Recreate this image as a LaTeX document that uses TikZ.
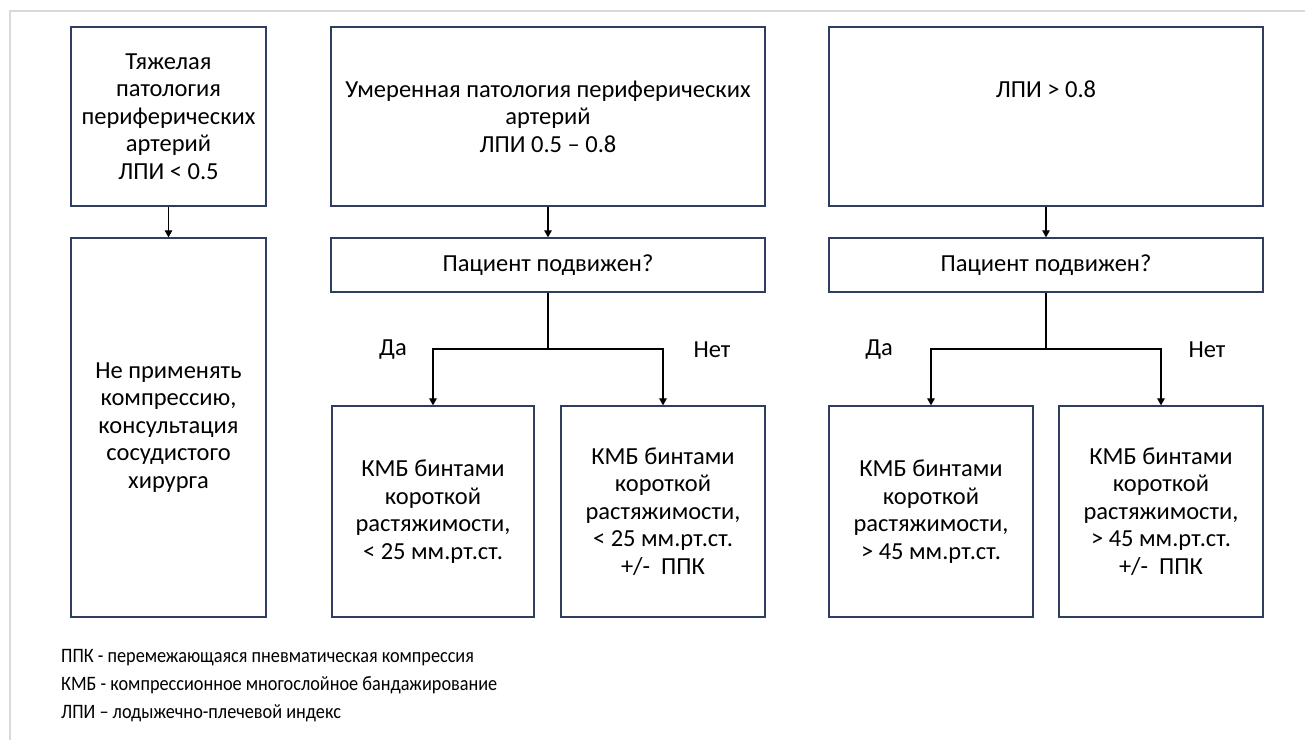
\documentclass[tikz,border=0pt]{standalone}
\usepackage{fontspec}
\setmainfont{Carlito}
\newfontfamily\legendfont{Carlito}[FakeStretch=0.89]
\usetikzlibrary{arrows.meta}
\definecolor{boxblue}{RGB}{47,62,96}
\definecolor{framegray}{RGB}{217,217,217}
\begin{document}
\begin{tikzpicture}[
        x=1pt, y=-1pt,
        every node/.style={font=\fontsize{24.5}{27.5}\selectfont},
        box/.style={draw=boxblue, line width=1.3pt, align=center, inner sep=0pt},
        ln/.style={line width=1.2pt},
        arr/.style={ln, -{Triangle[width=7.5pt, length=7pt]}}
      ]
      \useasboundingbox (0,0) rectangle (1305,740);
      \draw[framegray, line width=1.5pt] (10,740) -- (10,11) -- (1305,11);
      \node[box, minimum width=195, minimum height=179] (heavy) at (168.5,116.5)
        {Тяжелая\\патология\\периферических\\артерий\\ЛПИ < 0.5};
      \node[box, minimum width=195, minimum height=379] (nocomp) at (168.5,427.5)
        {Не применять\\компрессию,\\консультация\\сосудистого\\хирурга};
      \node[box, minimum width=434, minimum height=179] (moder) at (548,116.5)
        {Умеренная патология периферических\\артерий\\ЛПИ 0.5 – 0.8};
      \node[box, minimum width=434, minimum height=54] (mobM) at (548,265)
        {Пациент подвижен?};
      \node[box, minimum width=202, minimum height=211] (yesM) at (433,511.5)
        {КМБ бинтами\\короткой\\растяжимости,\\< 25 мм.рт.ст.};
      \node[box, minimum width=204, minimum height=211] (noM) at (663,511.5)
        {КМБ бинтами\\короткой\\растяжимости,\\< 25 мм.рт.ст.\\+/-\ \ ППК};
      \node[box, minimum width=434, minimum height=179] (norm) at (1046,116.5)
        {ЛПИ > 0.8\\\mbox{}\\\mbox{}};
      \node[box, minimum width=434, minimum height=54] (mobR) at (1046,265)
        {Пациент подвижен?};
      \node[box, minimum width=204, minimum height=211] (yesR) at (931,511.5)
        {КМБ бинтами\\короткой\\растяжимости,\\> 45 мм.рт.ст.};
      \node[box, minimum width=204, minimum height=211] (noR) at (1161,511.5)
        {КМБ бинтами\\короткой\\растяжимости,\\> 45 мм.рт.ст.\\+/-\ \ ППК};
      \coordinate (splitM) at (548,349);
      \coordinate (splitR) at (1046,349);
      \node (daM) at (393,350) {Да};
      \node (netM) at (712,350) {Нет};
      \node (daR) at (879,350) {Да};
      \node (netR) at (1207,350) {Нет};
      \draw[arr] (heavy) -- (nocomp);
      \draw[arr] (moder) -- (mobM);
      \draw[arr] (norm) -- (mobR);
      \draw[ln] (mobM) -- (splitM);
      \draw[ln] (mobR) -- (splitR);
      \draw[arr] (splitM) -| (yesM.north);
      \draw[arr] (splitM) -| (noM.north);
      \draw[arr] (splitR) -| (yesR.north);
      \draw[arr] (splitR) -| (noR.north);
      \node[align=left, anchor=west, inner sep=0pt, font=\legendfont\fontsize{20.5}{28}\selectfont] (legend) at (61,686)
        {ППК - перемежающаяся пневматическая компрессия\\
         КМБ - компрессионное многослойное бандажирование\\
         ЛПИ – лодыжечно-плечевой индекс};
    \end{tikzpicture}
\end{document}
